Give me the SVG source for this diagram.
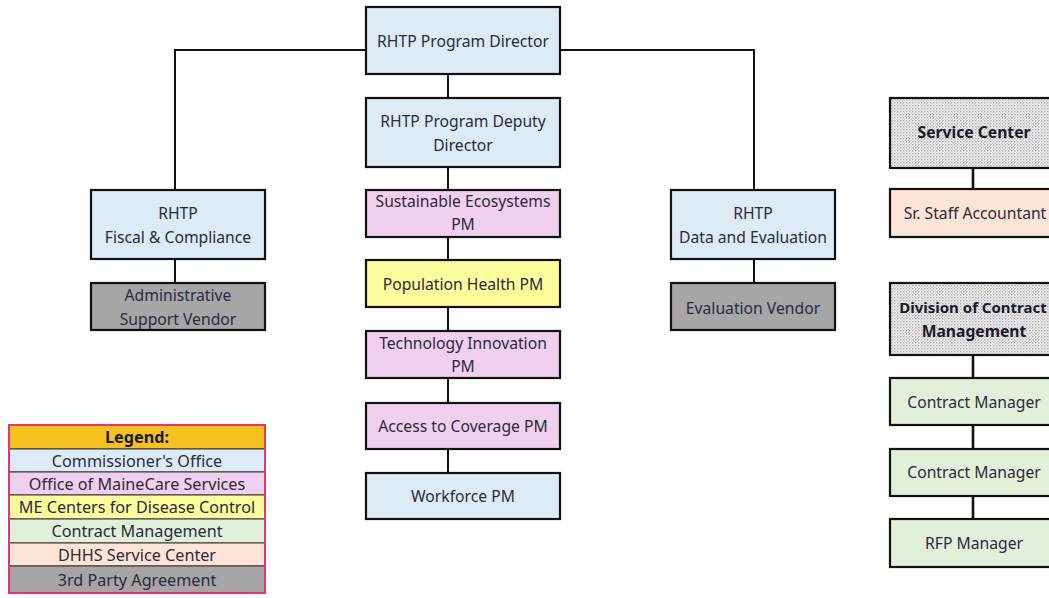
<svg xmlns="http://www.w3.org/2000/svg" width="1049" height="598" viewBox="0 0 1049 598">
<style>
.box{stroke:#111;stroke-width:2.2}
.blue{fill:#DDEBF7}.pink{fill:#F0D0EE}.yellow{fill:#FDFC9C}.green{fill:#E2EFDA}.peach{fill:#FCE4D6}.grey{fill:#A6A6A6}
.dot{fill:url(#dots)}
text{font-family:"Noto Sans","Open Sans",sans-serif;font-size:15.7px;fill:#2b2b3b;text-anchor:middle;dominant-baseline:central}
.b{font-weight:bold;fill:#1a1a2a}
.l{font-size:16.2px}
.conn{stroke:#111;stroke-width:2;fill:none}
.conn2{stroke:#111;stroke-width:2.6;fill:none}
.lg{stroke:#333;stroke-width:1}
</style>
<defs>
<pattern id="dots" width="3" height="3" patternUnits="userSpaceOnUse">
<rect width="3" height="3" fill="#f6f6f6"/>
<rect width="1.5" height="1.5" fill="#b0b0b0"/>
<rect x="1.5" y="1.5" width="1.5" height="1.5" fill="#cfcfcf"/>
</pattern>
</defs>
<rect width="1049" height="598" fill="#fff"/>
<g id="connectors">
<path class="conn" d="M366 50H175V190M560 50H754V190M448 74V98M448 167V473M175 259V283M754 259V283"/>
<path class="conn2" d="M973 168V189M973 355V378M973 425V449M973 496V519"/>
</g>
<g id="director"><rect class="box blue" x="366" y="7" width="194" height="67"/><text x="463" y="41">RHTP Program Director</text></g>
<g id="deputy"><rect class="box blue" x="366" y="98" width="194" height="69"/><text x="463" y="121">RHTP Program Deputy</text><text x="463" y="145">Director</text></g>
<g id="fiscal"><rect class="box blue" x="91" y="190" width="174" height="69"/><text x="178" y="213">RHTP</text><text x="178" y="237">Fiscal &amp; Compliance</text></g>
<g id="admin"><rect class="box grey" x="91" y="283" width="174" height="47"/><text x="178" y="295">Administrative</text><text x="178" y="319">Support Vendor</text></g>
<g id="sustainable"><rect class="box pink" x="366" y="190" width="194" height="47"/><text x="463" y="201">Sustainable Ecosystems</text><text x="463" y="224">PM</text></g>
<g id="population"><rect class="box yellow" x="366" y="260" width="194" height="47"/><text x="463" y="284">Population Health PM</text></g>
<g id="technology"><rect class="box pink" x="366" y="331" width="194" height="47"/><text x="463" y="343">Technology Innovation</text><text x="463" y="366">PM</text></g>
<g id="access"><rect class="box pink" x="366" y="403" width="194" height="46"/><text x="463" y="426">Access to Coverage PM</text></g>
<g id="workforce"><rect class="box blue" x="366" y="473" width="194" height="46"/><text x="463" y="496">Workforce PM</text></g>
<g id="data"><rect class="box blue" x="671" y="190" width="164" height="69"/><text x="753" y="213">RHTP</text><text x="753" y="237">Data and Evaluation</text></g>
<g id="evalvendor"><rect class="box grey" x="671" y="283" width="164" height="47"/><text x="753" y="308">Evaluation Vendor</text></g>
<g id="servicecenter"><rect class="box dot" x="890" y="98" width="170" height="70"/><text class="b" x="974" y="132">Service Center</text></g>
<g id="accountant"><rect class="box peach" x="890" y="189" width="170" height="48"/><text x="975" y="213">Sr. Staff Accountant</text></g>
<g id="division"><rect class="box dot" x="890" y="283" width="170" height="72"/><text class="b" x="973" y="307" style="font-size:15px">Division of Contract</text><text class="b" x="974" y="331">Management</text></g>
<g id="cm1"><rect class="box green" x="890" y="378" width="170" height="47"/><text x="974" y="402">Contract Manager</text></g>
<g id="cm2"><rect class="box green" x="890" y="449" width="170" height="47"/><text x="974" y="472">Contract Manager</text></g>
<g id="rfp"><rect class="box green" x="890" y="519" width="170" height="48"/><text x="974" y="543">RFP Manager</text></g>
<g id="legend">
<rect x="9" y="425" width="256" height="24" fill="#F7C11F" class="lg"/>
<rect x="9" y="449" width="256" height="23" class="blue lg"/>
<rect x="9" y="472" width="256" height="23" class="pink lg"/>
<rect x="9" y="495" width="256" height="24" class="yellow lg"/>
<rect x="9" y="519" width="256" height="24" class="green lg"/>
<rect x="9" y="543" width="256" height="23" class="peach lg"/>
<rect x="9" y="566" width="256" height="27" class="grey lg"/>
<rect x="9" y="425" width="256" height="168" fill="none" stroke="#E8336E" stroke-width="2"/>
<text class="b l" x="137" y="437">Legend:</text>
<text class="l" x="137" y="461">Commissioner's Office</text>
<text class="l" x="137" y="484">Office of MaineCare Services</text>
<text class="l" x="137" y="507">ME Centers for Disease Control</text>
<text class="l" x="137" y="531">Contract Management</text>
<text class="l" x="137" y="555">DHHS Service Center</text>
<text class="l" x="137" y="580">3rd Party Agreement</text>
</g>
</svg>
